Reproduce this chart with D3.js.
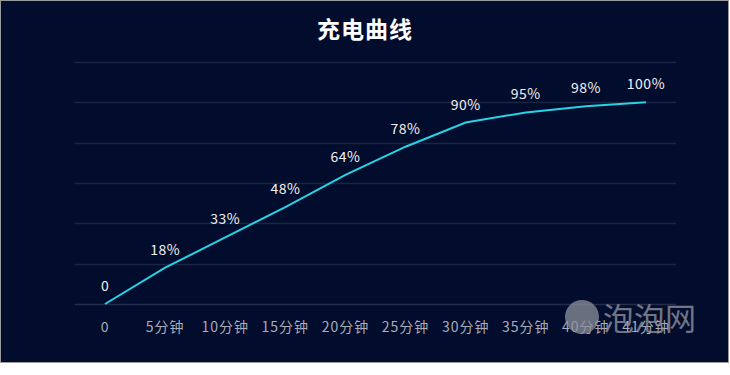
<!DOCTYPE html>
<html>
<head>
<meta charset="utf-8">
<script src="https://cdn.jsdelivr.net/npm/d3@7"></script>
<style>
  body { margin: 0; background: #fff; }
  text { font-family: "Noto Sans CJK SC", "Noto Sans", sans-serif; }
</style>
</head>
<body>
<script>
const categories = ['0', '5分钟', '10分钟', '15分钟', '20分钟', '25分钟', '30分钟', '35分钟', '40分钟', '41分钟']
const charge = [0, 18, 33, 48, 64, 78, 90, 95, 98, 100]
const yTicks = [0, 20, 40, 60, 80, 100, 120]
const title = '充电曲线'

var W = 730, H = 375
var margin = { top: 62, right: 54, bottom: 71, left: 75 },
    width = W - margin.left - margin.right,
    height = 304 - margin.top;

var root = d3.select("body").append("svg")
    .attr("width", W)
    .attr("height", H);

// panel with grey frame
root.append("rect")
    .attr("x", 0.5).attr("y", 0.5)
    .attr("width", 728).attr("height", 362)
    .attr("fill", "#020c2c")
    .attr("stroke", "#9a9a9a");

root.append("text")
    .attr("x", 365)
    .attr("y", 38)
    .attr("text-anchor", "middle")
    .attr("fill", "#ffffff")
    .attr("font-size", 23)
    .attr("letter-spacing", 1)
    .attr("font-weight", "bold")
    .text(title);

var svg = root.append("g")
    .attr("transform", "translate(" + margin.left + "," + margin.top + ")");

var x = d3.scaleBand().domain(categories).range([0, width]);
var y = d3.scaleLinear().domain([0, 120]).range([height, 0]);

// grid lines
svg.selectAll(".grid")
    .data(yTicks)
    .enter()
    .append("line")
    .attr("x1", 0)
    .attr("x2", width)
    .attr("y1", d => Math.round(y(d)) + 0.5)
    .attr("y2", d => Math.round(y(d)) + 0.5)
    .attr("stroke", d => d === 0 ? "#232c48" : "#1b2440")
    .attr("stroke-width", 1.5);

// x axis labels only
var xAxis = d3.axisBottom(x).tickSize(0).tickPadding(0);
var gx = svg.append("g")
    .attr("transform", "translate(0," + height + ")")
    .call(xAxis);
gx.select(".domain").remove();
gx.selectAll("text")
    .attr("y", 28)
    .attr("dy", 0)
    .attr("fill", "#a9adb9")
    .attr("font-size", 14)
    .attr("letter-spacing", 1);

var pts = categories.map((c, i) => ({ c: c, v: charge[i] }));

var line = d3.line()
    .x(d => x(d.c) + x.bandwidth() / 2)
    .y(d => y(d.v));

svg.append("path")
    .datum(pts)
    .attr("fill", "none")
    .attr("stroke", "#27d3e6")
    .attr("stroke-width", 2)
    .attr("d", line);

svg.selectAll(".lbl")
    .data(pts)
    .enter()
    .append("text")
    .attr("x", d => x(d.c) + x.bandwidth() / 2)
    .attr("y", d => y(d.v) - 13)
    .attr("text-anchor", "middle")
    .attr("fill", "#f2f2f2")
    .attr("font-size", 14)
    .attr("letter-spacing", 0.5)
    .text(d => d.v === 0 ? "0" : d.v + "%");

// watermark
root.append("circle")
    .attr("cx", 582).attr("cy", 317).attr("r", 17)
    .attr("fill", "#8d909c").attr("opacity", 0.75);
root.append("text")
    .attr("x", 603)
    .attr("y", 330)
    .attr("fill", "#8d909c")
    .attr("opacity", 0.8)
    .attr("font-size", 31)
    .text("泡泡网");
</script>
</body>
</html>
